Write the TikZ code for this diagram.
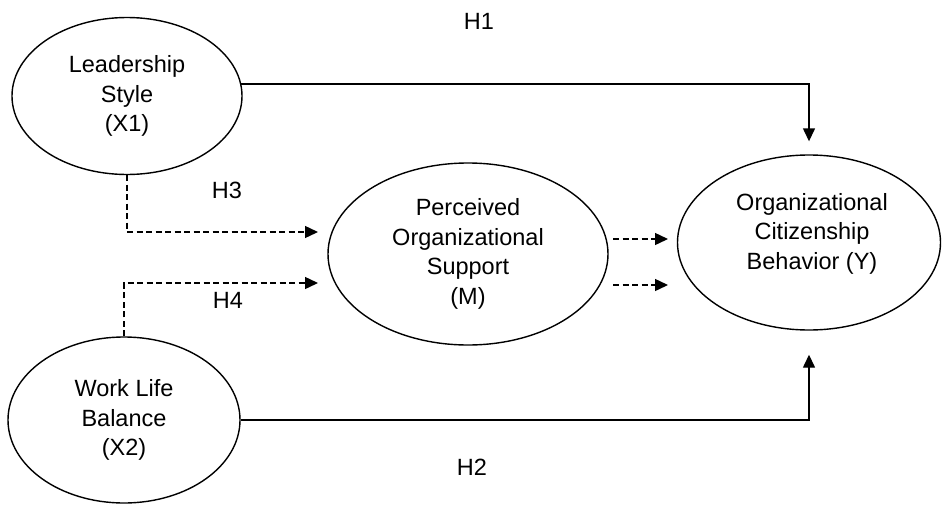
\documentclass[tikz,border=0pt]{standalone}
\usepackage{fontspec}
\setmainfont{Liberation Sans}
\usetikzlibrary{shapes.geometric,arrows.meta}
\begin{document}
\begin{tikzpicture}[x=1pt,y=-1pt,
  construct/.style={ellipse,draw,line width=1.4pt,inner sep=0pt,align=center,
    font=\fontsize{23.5}{29.5}\selectfont},
  lbl/.style={font=\fontsize{23.5}{29.5}\selectfont},
  solidarrow/.style={line width=1.4pt,-{Triangle[length=13pt,width=12pt]}},
  dasharrow/.style={line width=1.4pt,dash pattern=on 6pt off 3.5pt,-{Triangle[length=13pt,width=12pt]}}]
\useasboundingbox (0,0) rectangle (942,506);
\node[construct,minimum width=230pt,minimum height=157pt] (X1) at (127,96) {Leadership\\Style\\(X1)};
\node[construct,minimum width=232pt,minimum height=166pt] (X2) at (124,420) {Work Life\\Balance\\(X2)};
\node[construct,minimum width=280pt,minimum height=182pt] (M) at (468,254) {Perceived\\Organizational\\Support\\(M)};
\node[construct,minimum width=263pt,minimum height=175pt,
  label={[lbl,align=center,yshift=9pt,xshift=3pt]center:Organizational\\Citizenship\\Behavior (Y)}] (Y) at (809,242.5) {};
\node[lbl] (h1) at (479,21) {H1};
\node[lbl] (h3) at (227,190) {H3};
\node[lbl] (h4) at (228,300) {H4};
\node[lbl] (h2) at (472,467) {H2};
\coordinate (h3end) at (318,232);
\coordinate (h4end) at (318,283);
\coordinate (ma1) at (613,239);
\coordinate (ya1) at (668,239);
\coordinate (ma2) at (613,285);
\coordinate (ya2) at (668,285);
\draw[solidarrow] (X1.6.6) -| ([yshift=13pt]Y.north);
\draw[solidarrow] (X2.east) -| ([yshift=-24pt]Y.south);
\draw[dasharrow] (X1.south) |- (h3end);
\draw[dasharrow] (X2.north) |- (h4end);
\draw[dasharrow] (ma1) -- (ya1);
\draw[dasharrow] (ma2) -- (ya2);
\end{tikzpicture}
\end{document}
